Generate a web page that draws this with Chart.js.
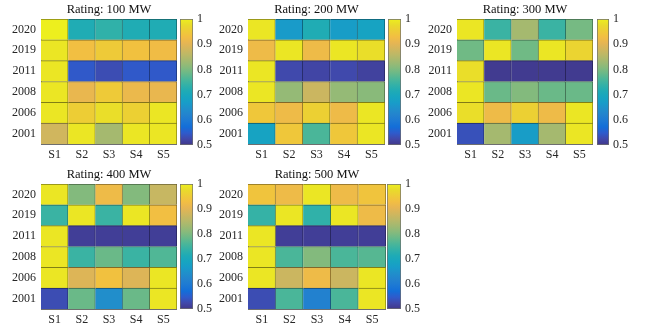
<!DOCTYPE html>
<html>
<head>
<meta charset="utf-8">
<script src="https://cdn.jsdelivr.net/npm/chart.js@4.4.1/dist/chart.umd.min.js"></script>
<style>
  body { margin: 0; background: #fff; }
  #wrap { position: relative; width: 657px; height: 326px; overflow: hidden; }
  #wrap canvas { position: absolute; }
</style>
</head>
<body>
<div id="wrap"></div>
<script>
// rows listed top to bottom, as on the picture
const years = ['2020', '2019', '2011', '2008', '2006', '2001'];
const sources = ['S1', 'S2', 'S3', 'S4', 'S5'];
const titles = ['Rating: 100 MW', 'Rating: 200 MW', 'Rating: 300 MW', 'Rating: 400 MW', 'Rating: 500 MW'];
const colorMin = 0.5;
const colorMax = 1;

const rating100 = [
  [1.00, 0.715, 0.735, 0.715, 0.715],
  [0.99, 0.93, 0.95, 0.935, 0.925],
  [0.99, 0.545, 0.53, 0.545, 0.545],
  [0.99, 0.91, 0.95, 0.915, 0.91],
  [0.99, 0.955, 0.98, 0.96, 0.99],
  [0.88, 0.99, 0.835, 0.99, 0.99]
];
const rating200 = [
  [0.99, 0.665, 0.715, 0.67, 0.685],
  [0.92, 0.99, 0.92, 0.99, 0.98],
  [0.99, 0.525, 0.52, 0.525, 0.515],
  [0.99, 0.82, 0.875, 0.82, 0.81],
  [0.945, 0.92, 0.96, 0.92, 0.99],
  [0.685, 0.945, 0.76, 0.945, 0.99]
];
const rating300 = [
  [0.99, 0.745, 0.835, 0.745, 0.795],
  [0.79, 0.99, 0.79, 0.99, 0.965],
  [0.98, 0.505, 0.505, 0.505, 0.505],
  [0.99, 0.785, 0.805, 0.785, 0.785],
  [0.98, 0.92, 0.96, 0.92, 0.99],
  [0.535, 0.835, 0.67, 0.835, 0.99]
];
const rating400 = [
  [0.99, 0.805, 0.92, 0.805, 0.87],
  [0.745, 0.99, 0.745, 0.99, 0.93],
  [0.99, 0.51, 0.51, 0.51, 0.51],
  [0.99, 0.745, 0.785, 0.745, 0.765],
  [0.99, 0.895, 0.935, 0.895, 0.99],
  [0.53, 0.785, 0.64, 0.785, 0.99]
];
const rating500 = [
  [0.94, 0.92, 0.99, 0.92, 0.94],
  [0.74, 0.99, 0.735, 0.99, 0.92],
  [0.99, 0.51, 0.51, 0.51, 0.51],
  [0.99, 0.76, 0.805, 0.76, 0.77],
  [0.99, 0.875, 0.92, 0.875, 0.99],
  [0.53, 0.76, 0.615, 0.76, 0.99]
];
const allRatings = [rating100, rating200, rating300, rating400, rating500];

// parula colormap, every third entry of the 64 step table
const parulaMap = [
  [0.2081, 0.1663, 0.5292], [0.2081, 0.2386, 0.6771], [0.1253, 0.3242, 0.8303],
  [0.0060, 0.4086, 0.8828], [0.0498, 0.4586, 0.8641], [0.0779, 0.5040, 0.8384],
  [0.0641, 0.5570, 0.8240], [0.0265, 0.6137, 0.8135], [0.0228, 0.6535, 0.7768],
  [0.0590, 0.6838, 0.7254], [0.1453, 0.7098, 0.6646], [0.2586, 0.7317, 0.5954],
  [0.3953, 0.7459, 0.5244], [0.5300, 0.7491, 0.4661], [0.6473, 0.7456, 0.4188],
  [0.7525, 0.7384, 0.3768], [0.8507, 0.7299, 0.3360], [0.9450, 0.7261, 0.2886],
  [0.9990, 0.7653, 0.2164], [0.9789, 0.8271, 0.1633], [0.9589, 0.8949, 0.1132],
  [0.9763, 0.9831, 0.0538]
];

// the scanned figure looks slightly washed out, so pull colours a bit towards grey
const washOut = 0.12;

function mapRgb(c, shade) {
  const k = shade || 1;
  return c.map(q => Math.round(k * (255 * q * (1 - washOut) + 150 * washOut)));
}

function parula(v, shade) {
  let t = (v - colorMin) / (colorMax - colorMin);
  t = Math.max(0, Math.min(1, t));
  const p = t * (parulaMap.length - 1);
  const i = Math.min(Math.floor(p), parulaMap.length - 2);
  const f = p - i;
  const c = [0, 1, 2].map(j => parulaMap[i][j] + (parulaMap[i + 1][j] - parulaMap[i][j]) * f);
  return 'rgb(' + mapRgb(c, shade).join(',') + ')';
}

// panel boxes on the page: heatmap [left, top, width, height], colorbar [left, top, width, height]
const layoutBoxes = [
  { hm: [41, 19, 133, 125], cb: [180, 19, 13, 126] },
  { hm: [248, 19, 134, 125], cb: [388, 19, 13, 126] },
  { hm: [457, 19, 133, 125], cb: [597, 19, 12, 126] },
  { hm: [41, 184, 133, 125], cb: [180, 184, 13, 125] },
  { hm: [248, 184, 135, 125], cb: [387, 184, 14, 125] }
];

const serif = '"Liberation Serif", "Times New Roman", serif';
const tickFont = { family: serif, size: 12 };
const axisColor = '#6e6e6e';
const textColor = '#262626';
const topSpace = 20;
const bottomSpace = 18;
const wrap = document.getElementById('wrap');

function addCanvas(left, top, w, h) {
  const c = document.createElement('canvas');
  c.width = w;
  c.height = h;
  c.style.left = left + 'px';
  c.style.top = top + 'px';
  c.style.width = w + 'px';
  c.style.height = h + 'px';
  wrap.appendChild(c);
  return c;
}

function drawHeatmap(box, title, rows) {
  const [x, y, w, h] = box.hm;
  const canvas = addCanvas(x - 40, y - topSpace, w + 43, h + topSpace + bottomSpace);
  const yearsUp = years.slice().reverse();
  const rowsUp = rows.slice().reverse();

  const datasets = rowsUp.map((row, i) => ({
    label: yearsUp[i],
    data: row.map(() => 1),
    backgroundColor: row.map(v => parula(v)),
    borderColor: row.map(v => parula(v, 0.55)),
    borderWidth: { top: 1, right: 1, bottom: 0, left: 0 },
    borderSkipped: false,
    barPercentage: 1,
    categoryPercentage: 1
  }));

  new Chart(canvas, {
    type: 'bar',
    data: { labels: sources, datasets: datasets },
    options: {
      responsive: false,
      animation: false,
      devicePixelRatio: 1,
      plugins: {
        legend: { display: false },
        tooltip: { enabled: false },
        title: {
          display: true,
          fullSize: false,
          text: title,
          color: '#111',
          font: { family: serif, size: 12.5, weight: 'normal' },
          padding: { top: 3.5, bottom: 1.5 }
        }
      },
      scales: {
        x: {
          stacked: true,
          grid: { display: false, drawTicks: false },
          border: { display: true, color: axisColor },
          ticks: { color: textColor, font: tickFont, padding: 4 },
          afterFit: s => { s.height = bottomSpace; }
        },
        y: {
          stacked: true,
          min: 0,
          max: years.length,
          grid: { display: false, drawTicks: false },
          border: { display: true, color: axisColor },
          ticks: {
            color: textColor,
            font: tickFont,
            padding: 5,
            callback: v => yearsUp[Math.floor(v)]
          },
          afterBuildTicks: s => { s.ticks = yearsUp.map((_, i) => ({ value: i + 0.5 })); },
          afterFit: s => { s.width = 40; }
        }
      }
    }
  });
}

function drawColorbar(box) {
  const [hx, hy, hw, hh] = box.hm;
  const [x, y, w, h] = box.cb;
  const canvasH = hh + topSpace + bottomSpace;
  const canvas = addCanvas(x, hy - topSpace, w + 28, canvasH);
  const padTop = topSpace + (y - hy);
  const padBottom = canvasH - padTop - h;

  new Chart(canvas, {
    type: 'bar',
    data: {
      labels: [''],
      datasets: [{
        data: [[colorMin, colorMax]],
        backgroundColor: ctx => {
          const area = ctx.chart.chartArea;
          if (!area) return null;
          const g = ctx.chart.ctx.createLinearGradient(0, area.bottom, 0, area.top);
          parulaMap.forEach((c, i) => {
            g.addColorStop(i / (parulaMap.length - 1), 'rgb(' + mapRgb(c).join(',') + ')');
          });
          return g;
        },
        borderColor: axisColor,
        borderWidth: 1,
        borderSkipped: false,
        barPercentage: 1,
        categoryPercentage: 1
      }]
    },
    options: {
      responsive: false,
      animation: false,
      devicePixelRatio: 1,
      layout: { padding: { top: padTop, bottom: padBottom, left: 0, right: 0 } },
      plugins: { legend: { display: false }, tooltip: { enabled: false } },
      scales: {
        x: { display: false },
        y: {
          position: 'right',
          min: colorMin,
          max: colorMax,
          grid: { display: false, drawTicks: false },
          border: { display: false },
          ticks: {
            stepSize: 0.1,
            color: textColor,
            font: tickFont,
            padding: 4,
            callback: v => (Math.abs(v - 1) < 1e-6 ? '1' : v.toFixed(1))
          },
          afterFit: s => { s.width = 28; }
        }
      }
    }
  });
}

layoutBoxes.forEach((box, i) => {
  drawHeatmap(box, titles[i], allRatings[i]);
  drawColorbar(box);
});
</script>
</body>
</html>
